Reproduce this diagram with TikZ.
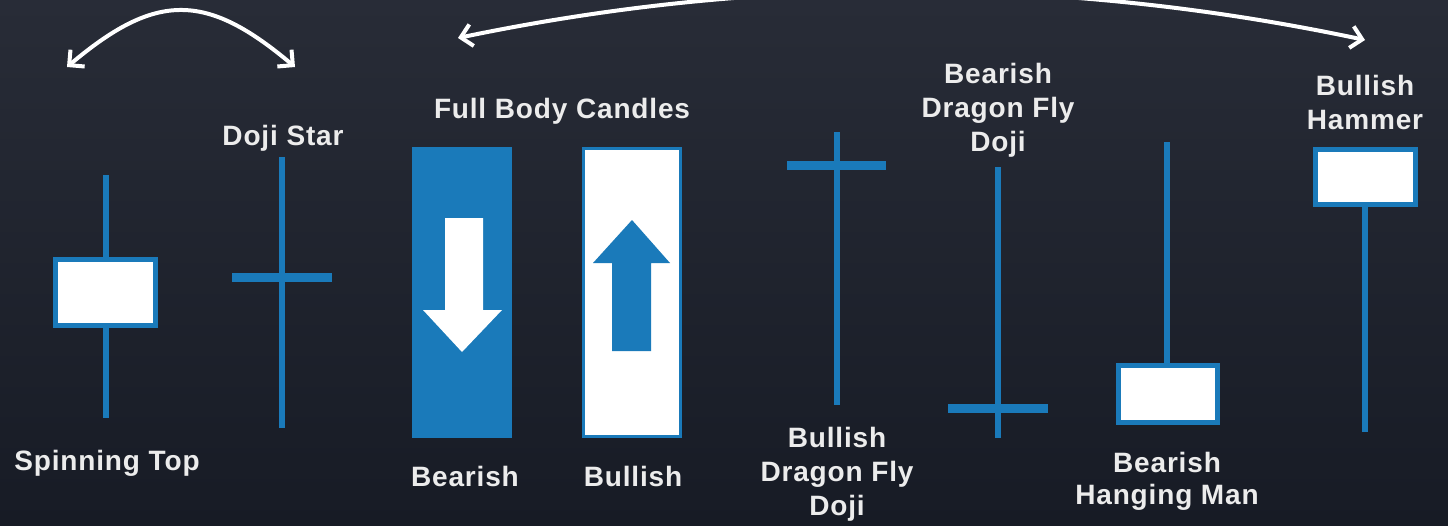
\documentclass[tikz,border=0pt]{standalone}
\usepackage{fontspec}
\newfontfamily\labfont[LetterSpace=3]{Liberation Sans}
\usetikzlibrary{arrows.meta}
\definecolor{bgtop}{RGB}{40,44,55}
\definecolor{bgbot}{RGB}{23,27,37}
\definecolor{cblue}{RGB}{26,122,186}
\definecolor{txt}{RGB}{236,236,236}
\begin{document}
\begin{tikzpicture}[x=1pt,y=-1pt,
  lab/.style={font=\labfont\bfseries\fontsize{28}{34}\selectfont, text=txt, anchor=north, inner sep=0pt, align=center},
  wick/.style={draw=cblue, line width=6pt},
  bar/.style={draw=cblue, line width=9pt},
  body/.style={draw=cblue, fill=white, line width=5pt},
  wharrow/.style={draw=white, line width=4pt,
    {Straight Barb[length=11pt,width=22pt]}-{Straight Barb[length=11pt,width=22pt]}}]
\useasboundingbox (0,0) rectangle (1448,525);
\clip (0,0) rectangle (1448,525);
\shade[top color=bgtop, bottom color=bgbot] (0,0) rectangle (1448,525);

% curved arrows
\coordinate (sa1) at (67,67);
\coordinate (sa2) at (295,67);
\draw[wharrow] (sa1) .. controls (156,-8) and (206,-8) .. (sa2);
\coordinate (ba1) at (458,38);
\coordinate (ba2) at (1365,40);
\draw[wharrow] (ba1) .. controls (760,-25) and (1063,-24) .. (ba2);

% Spinning top
\draw[wick] (106,175) -- (106,418);
\node[body, minimum width=100pt, minimum height=66pt, inner sep=0pt] (st) at (105.5,292.5) {};
\node[lab] (stl) at (107,450) {Spinning Top};

% Doji star
\draw[wick] (282,157) -- (282,428);
\draw[bar] (232,277) -- (332,277);
\node[lab] (dsl) at (283,125) {Doji Star};

% Full body candles
\node[lab] (fbl) at (562,98) {Full Body Candles};
\node[fill=cblue, minimum width=100pt, minimum height=291pt, inner sep=0pt] (bear) at (462,292.5) {};
\fill[white] (445,218) -- (483,218) -- (483,310) -- (502,310) -- (462,352) -- (423,310) -- (445,310) -- cycle;
\node[draw=cblue, fill=white, line width=3pt, minimum width=97pt, minimum height=288pt, inner sep=0pt] (bull) at (632,292.5) {};
\fill[cblue] (632,220) -- (670,263) -- (651,263) -- (651,351) -- (612,351) -- (612,263) -- (593,263) -- cycle;
\node[lab] (bearl) at (465,466) {Bearish};
\node[lab] (bulll) at (633,466) {Bullish};

% Bullish dragon fly doji
\draw[wick] (837,132) -- (837,405);
\draw[bar] (787,165) -- (886,165);
\node[lab] (bdl) at (837,427) {Bullish\\Dragon Fly\\Doji};

% Bearish dragon fly doji
\draw[wick] (998,167) -- (998,438);
\draw[bar] (948,408) -- (1048,408);
\node[lab] (sdl) at (998,63) {Bearish\\Dragon Fly\\Doji};

% Bearish hanging man
\draw[wick] (1167,142) -- (1167,366);
\node[body, minimum width=99pt, minimum height=57pt, inner sep=0pt] (hm) at (1168,394) {};
\node[lab, font=\labfont\bfseries\fontsize{28}{32}\selectfont] (hml) at (1167,452) {Bearish\\Hanging Man};

% Bullish hammer
\draw[wick] (1365,204) -- (1365,432);
\node[body, minimum width=100pt, minimum height=55pt, inner sep=0pt] (hb) at (1365.5,177) {};
\node[lab] (hbl) at (1365,75) {Bullish\\Hammer};
\end{tikzpicture}
\end{document}
